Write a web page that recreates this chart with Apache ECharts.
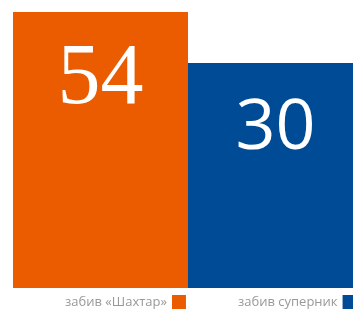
<!DOCTYPE html>
<html>
<head>
<meta charset="utf-8">
<script src="https://cdn.jsdelivr.net/npm/echarts@6/dist/echarts.min.js"></script>
<style>
  html, body { margin: 0; padding: 0; background: #fff; }
  #main { width: 353px; height: 310px; }
</style>
</head>
<body>
<div id="main"></div>
<script>
var chartDom = document.getElementById('main');
var myChart = echarts.init(chartDom);
var option;

// дані
var categories = ['матч'];
var seriesNames = ['забив «Шахтар»', 'забив суперник'];
var goalsShakhtar = [54];
var goalsOpponent = [30];

var orange = '#eb5b00';
var blue = '#004b96';

option = {
    animation: false,
    grid: {
        left: 13,
        right: 0,
        top: 12,
        bottom: 22
    },
    legend: {
        data: seriesNames,
        left: 65,
        top: 295,
        width: 330,
        padding: 0,
        align: 'right',
        icon: 'rect',
        itemWidth: 14,
        itemHeight: 14,
        itemGap: 52,
        textStyle: {
            color: '#999999',
            fontFamily: 'Open Sans',
            fontSize: 13
        }
    },
    xAxis: {
        type: 'category',
        data: categories,
        show: false
    },
    yAxis: {
        type: 'value',
        min: -76,
        max: 54,
        startValue: -76,
        show: false
    },
    series: [
        {
            name: seriesNames[0],
            type: 'bar',
            data: goalsShakhtar,
            barWidth: 175,
            barGap: 0,
            itemStyle: { color: orange },
            label: {
                show: true,
                position: ['50%', 68],
                align: 'center',
                verticalAlign: 'middle',
                color: '#fff',
                fontFamily: 'Liberation Sans Narrow',
                fontSize: 86
            }
        },
        {
            name: seriesNames[1],
            type: 'bar',
            data: goalsOpponent,
            barWidth: 165,
            barGap: 0,
            itemStyle: { color: blue },
            label: {
                show: true,
                position: ['53%', 66],
                align: 'center',
                verticalAlign: 'middle',
                color: '#fff',
                fontFamily: 'Open Sans',
                fontSize: 70
            }
        }
    ]
};

option && myChart.setOption(option);
</script>
</body>
</html>
